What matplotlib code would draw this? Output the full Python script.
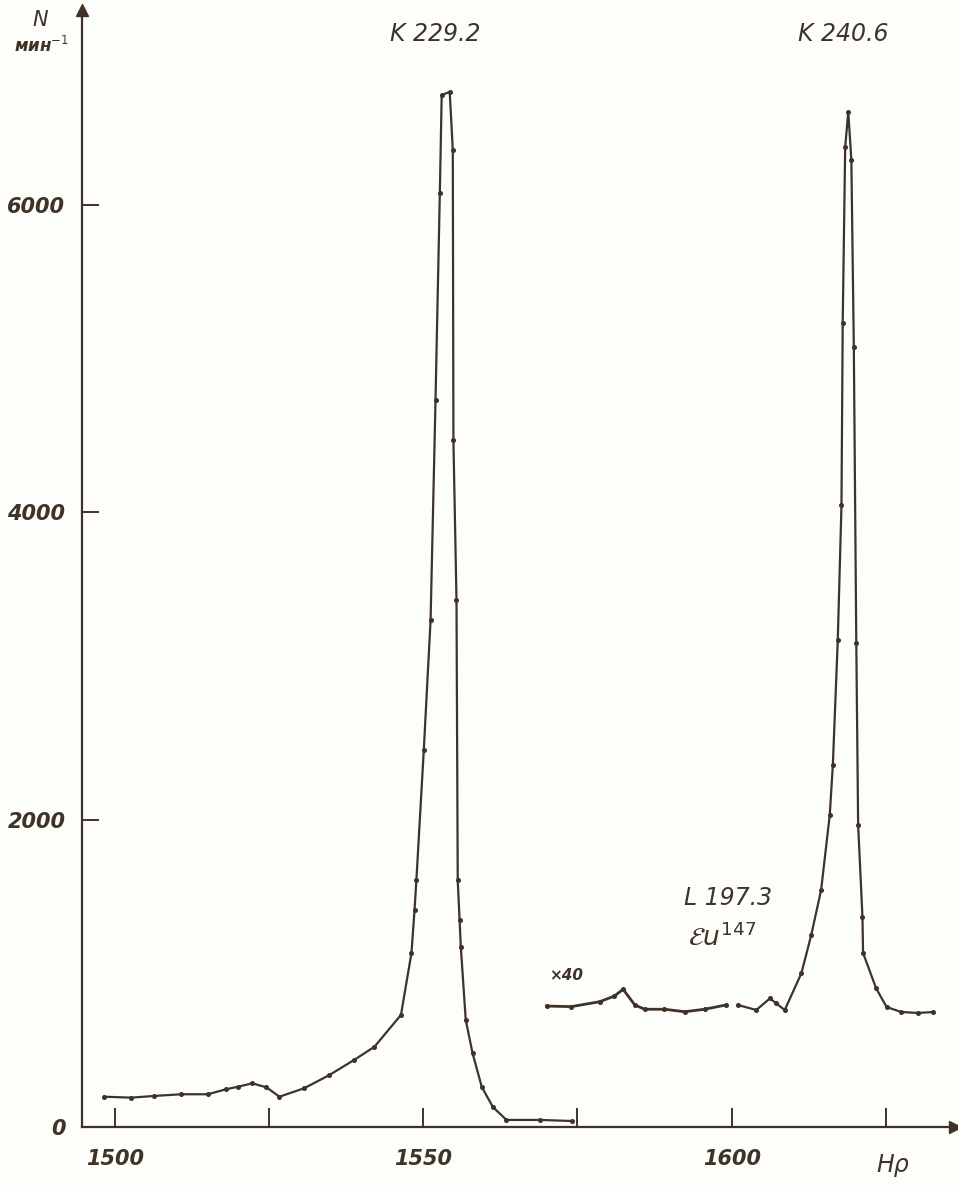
import matplotlib.pyplot as plt

# Спектр конверсионных электронов
left_hr = [1498.3, 1502.7, 1506.4, 1510.8, 1515.1, 1518.0, 1520.0, 1522.3, 1524.6,
           1526.7, 1530.7, 1534.8, 1538.8, 1542.1, 1546.4, 1548.1, 1548.6, 1548.9,
           1550.1, 1551.2, 1552.0, 1552.7, 1553.0, 1554.3, 1554.8, 1554.9, 1555.4,
           1555.6, 1555.9, 1556.1, 1556.9, 1558.0, 1559.5, 1561.3, 1563.5, 1568.9, 1574.1]
left_n = [197, 191, 202, 213, 213, 245, 262, 284, 258,
          197, 252, 338, 436, 522, 729, 1132, 1412, 1607,
          2453, 3299, 4730, 6077, 6714, 6734, 6357, 4470, 3429,
          1607, 1347, 1171, 696, 481, 260, 130, 46, 46, 39]

# участок x40
x40_hr = [1570.0, 1574.0, 1578.6, 1581.0, 1582.4, 1584.3, 1585.9, 1589.1, 1592.4, 1595.6, 1599.1]
x40_n = [787, 783, 815, 852, 896, 794, 766, 766, 750, 766, 794]

right_hr = [1601.0, 1604.0, 1606.2, 1607.2, 1608.6, 1611.3, 1612.9, 1614.5, 1615.9, 1616.4,
            1617.2, 1617.8, 1618.0, 1618.4, 1618.9, 1619.4, 1619.8, 1620.2, 1620.5, 1621.2,
            1621.3, 1623.4, 1625.1, 1627.5, 1630.2, 1632.6]
right_n = [794, 761, 837, 805, 761, 1000, 1249, 1542, 2030, 2355,
           3169, 4047, 5231, 6376, 6604, 6292, 5075, 3149, 1965, 1366,
           1132, 904, 781, 748, 742, 748]

x_ticks = [1500, 1525, 1550, 1575, 1600, 1625]
x_labels = ['1500', '', '1550', '', '1600', '']
y_ticks = [0, 2000, 4000, 6000]
y_labels = ['0', '2000', '4000', '6000']

ink = '#3f3328'
bg = '#fdfdfa'
font = ['DejaVu Sans']

W, H = 958, 1186
fig = plt.figure(figsize=(W / 100, H / 100), dpi=100, facecolor=bg)
ax = fig.add_axes([82 / W, 1 - 1127 / H, (955 - 82) / W, (1127 - 10) / H])
ax.set_facecolor(bg)

ax.plot(left_hr, left_n, '-', color=ink, lw=1.6, marker='o', ms=2.6)
ax.plot(x40_hr, x40_n, '-', color=ink, lw=2.0, marker='o', ms=2.6)
ax.plot(right_hr, right_n, '-', color=ink, lw=1.6, marker='o', ms=2.6)

ax.set_xlim(1494.7, 1636.2)
ax.set_ylim(0, 7267)

for s in ['top', 'right']:
    ax.spines[s].set_visible(False)
for s in ['left', 'bottom']:
    ax.spines[s].set_color(ink)
    ax.spines[s].set_linewidth(1.6)

# стрелки осей
ax.plot(0, 1, '^', color=ink, ms=9, transform=ax.transAxes, clip_on=False)
ax.plot(1, 0, '>', color=ink, ms=9, transform=ax.transAxes, clip_on=False)

ax.set_xticks(x_ticks)
ax.set_xticklabels(x_labels)
ax.set_yticks(y_ticks)
ax.set_yticklabels(y_labels)
ax.tick_params(axis='x', direction='in', length=14, width=1.4, color=ink, pad=16,
               labelsize=15, labelcolor=ink)
ax.tick_params(axis='y', direction='in', length=12, width=1.4, color=ink, pad=12,
               labelsize=15, labelcolor=ink)
for lab in ax.get_xticklabels() + ax.get_yticklabels():
    lab.set_family(font)
    lab.set_style('italic')
    lab.set_weight('bold')


def ftext(x, y, s, size, **kw):
    fig.text(x / W, 1 - y / H, s, fontsize=size, color=ink, family=font,
             style='italic', ha='center', va='center', **kw)


ftext(435, 34, 'K 229.2', 17)
ftext(843, 34, 'K 240.6', 17)
ftext(728, 898, 'L 197.3', 17)
ftext(722, 937, r'$\mathcal{E}u^{147}$', 19)
ftext(566, 975, '×40', 11, weight='bold')
ftext(893, 1165, 'Hρ', 17)
ftext(40, 20, 'N', 15)
ftext(42, 46, 'мин$^{-1}$', 12, weight='bold')

plt.savefig('out.png', dpi=100, facecolor=bg)
